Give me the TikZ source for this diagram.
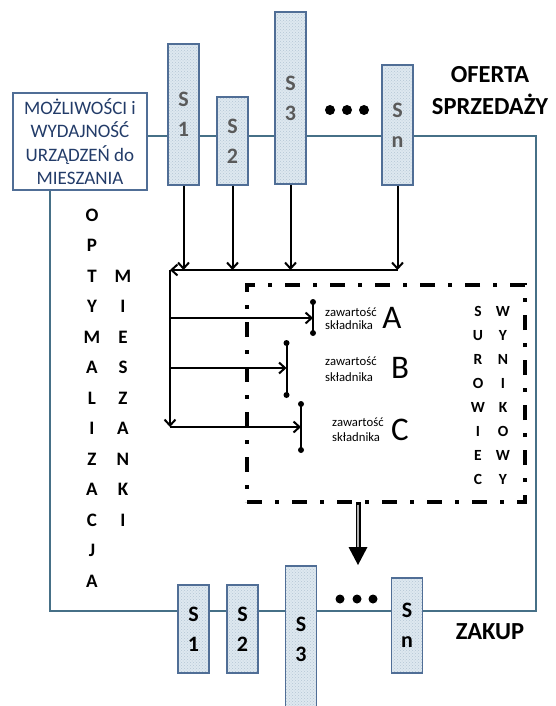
\documentclass[tikz,border=0pt]{standalone}
\usepackage{fontspec}
\setmainfont{Carlito}
\usetikzlibrary{arrows.meta,patterns}
\definecolor{tealline}{RGB}{70,112,135}
\definecolor{boxborder}{RGB}{80,110,150}
\definecolor{boxfill}{RGB}{222,232,240}
\definecolor{boxdot}{RGB}{180,198,212}
\definecolor{navytext}{RGB}{35,60,105}
\definecolor{labgray}{RGB}{90,90,90}
\begin{document}
\begin{tikzpicture}[x=1pt,y=-1pt,
  tl/.style={draw=tealline, line width=2pt},
  sbox/.style={draw=boxborder, line width=1.6pt, preaction={fill=boxfill}, pattern=crosshatch dots, pattern color=boxdot,
    minimum width=31pt, inner sep=0pt, align=center, font=\fontsize{22}{30}\selectfont\bfseries},
  toplab/.style={text=labgray},
  arr/.style={line width=2pt, -{Straight Barb[length=6pt,width=11pt]}},
  bar/.style={line width=2pt},
  vl/.style={font=\fontsize{19}{20}\selectfont\bfseries, inner sep=0pt, anchor=base},
  vs/.style={font=\fontsize{15.5}{17}\selectfont\bfseries, inner sep=0pt, anchor=base},
  zaw/.style={align=left, inner sep=0pt, anchor=west},
  big/.style={font=\fontsize{33}{36}\selectfont, inner sep=0pt},
  head/.style={font=\fontsize{24.5}{32}\selectfont\bfseries, align=center, inner sep=0pt}
]
\useasboundingbox (0,0) rectangle (555,706);
\clip (0,0) rectangle (555,706);

% main frame coordinates
\coordinate (tr) at (536,136);
\coordinate (br) at (536,611);
\coordinate (bl) at (50,611);

% left box
\node[draw=boxborder, line width=1.8pt, fill=white, minimum width=134pt, minimum height=97pt,
  text=navytext, align=center, inner sep=2pt, font=\fontsize{19}{23.5}\selectfont] (cap) at (80,141.5)
  {MOŻLIWOŚCI i\\WYDAJNOŚĆ\\URZĄDZEŃ do\\MIESZANIA};

\draw[tl] ([yshift=5.5pt]cap.east) -- (tr) -- (br) -- (bl) -- (bl |- cap.south);

% top supplier boxes
\node[sbox, toplab, minimum height=141pt] (t1) at (183.5,114.5) {S\\1};
\node[sbox, toplab, minimum height=88pt] (t2) at (232.5,141) {S\\2};
\node[sbox, toplab, minimum height=172pt] (t3) at (290.5,98) {S\\3};
\node[sbox, toplab, minimum height=120pt] (tn) at (397.5,125) {S\\n};
\fill (330,110) circle (5pt) (347,110) circle (5pt) (364,110) circle (5pt);

\node[head] (of) at (490,91) {OFERTA\\SPRZEDAŻY};

% bottom purchase boxes
\node[sbox, minimum height=88pt] (b1) at (193.5,629) {S\\1};
\node[sbox, minimum height=88pt] (b2) at (242.5,629) {S\\2};
\node[sbox, minimum height=146pt] (b3) at (301,639) {S\\3};
\node[sbox, minimum height=95pt] (bn) at (407,625.5) {S\\n};
\fill (340,599) circle (4.5pt) (357,599) circle (4.5pt) (373,599) circle (4.5pt);

\node[head] (zk) at (490,632) {ZAKUP};

% optimisation letters
\foreach \l [count=\i from 0] in {O,P,T,Y,M,A,L,I,Z,A,C,J,A}
  \node[vl] (op\i) at (92,{221+30.5*\i}) {\l};
\foreach \l [count=\i from 0] in {M,I,E,S,Z,A,N,K,I}
  \node[vl] (mi\i) at (123,{282+30.5*\i}) {\l};

% dash-dot box
\node[draw, line width=4pt, dash pattern=on 15pt off 13pt on 4pt off 13pt, minimum width=278pt,
  minimum height=217pt, inner sep=0pt] (sur) at (386,393.5) {};

\foreach \l [count=\i from 0] in {S,U,R,O,W,I,E,C}
  \node[vs] (su\i) at (478,{316+24*\i}) {\l};
\foreach \l [count=\i from 0] in {W,Y,N,I,K,O,W,Y}
  \node[vs] (wy\i) at (503,{316+24*\i}) {\l};

% collecting arrows
\coordinate (hl) at (170,270);
\coordinate (hr) at (397.5,270);
\coordinate (vb) at (170,427);
\draw[arr] (t1.south) -- (t1.south |- hl);
\draw[arr] (t2.south) -- (t2.south |- hl);
\draw[arr] (t3.south) -- (t3.south |- hl);
\draw[arr] (tn.south) -- (hr);
\draw[arr] (hr) -- (hl);
\draw[arr] (hl) -- (vb);

% ingredient bars
\coordinate (aT) at (313,302); \coordinate (aB) at (313,333); \coordinate (aM) at (313,318);
\coordinate (bT) at (286.5,343); \coordinate (bB) at (286.5,395); \coordinate (bM) at (286.5,368);
\coordinate (cT) at (301,404); \coordinate (cB) at (301,450); \coordinate (cM) at (301,427);
\draw[bar] (aT) -- (aB);
\draw[bar] (bT) -- (bB);
\draw[bar] (cT) -- (cB);
\fill (aT) circle (3pt) (aB) circle (3pt) (bT) circle (3pt) (bB) circle (3pt) (cT) circle (3pt) (cB) circle (3pt);
\draw[arr] (hl |- aM) -- (aM);
\draw[arr] (hl |- bM) -- (bM);
\draw[arr] (vb) -- (cM);

\node[zaw, font=\fontsize{12.7}{13.5}\selectfont] (za) at (325,318.5) {zawartość\\składnika};
\node[zaw, font=\fontsize{12.7}{16}\selectfont] (zb) at (325,369) {zawartość\\składnika};
\node[zaw, font=\fontsize{12.7}{15}\selectfont] (zc) at (332,429.5) {zawartość\\składnika};
\node[big] (la) at (392,318) {A};
\node[big] (lb) at (400,368) {B};
\node[big] (lc) at (400,430) {C};

% output arrow
\coordinate (atop) at (358,502);
\coordinate (atip) at (358,565);
\draw[line width=5pt] (atop) -- ([yshift=17pt]atip);
\draw[line width=1.6pt, gray!60] ([yshift=-2.5pt]atop) -- ([yshift=17pt]atip);
\fill (atip) -- ++(-9.5,-18) -- ++(19,0) -- cycle;
\end{tikzpicture}
\end{document}
